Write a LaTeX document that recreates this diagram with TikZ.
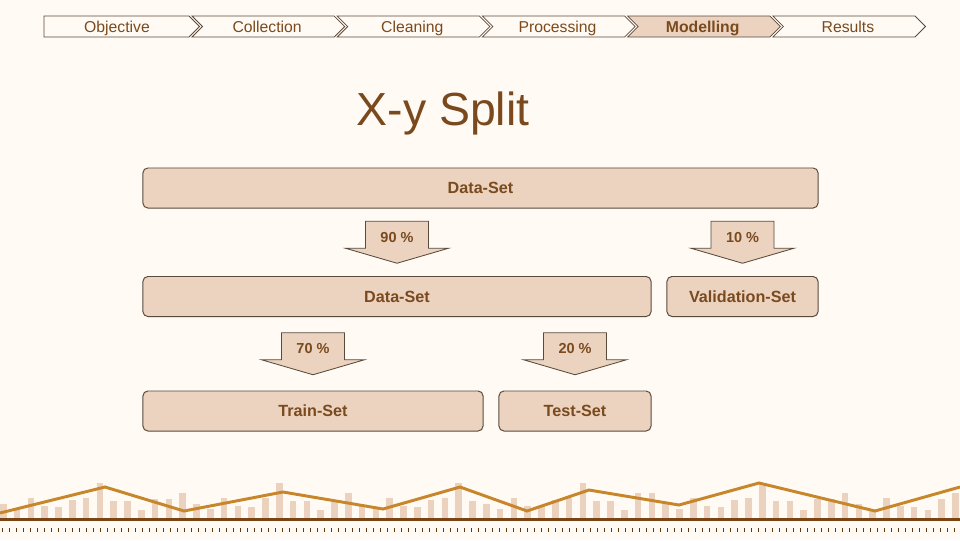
\documentclass[tikz,border=0pt]{standalone}
\usepackage{fontspec}
\setmainfont{Liberation Sans}
\usetikzlibrary{calc}
\definecolor{bgc}{HTML}{FFFAF4}
\definecolor{boxfill}{HTML}{EBD3C0}
\definecolor{boxline}{HTML}{5A4A3C}
\definecolor{txtc}{HTML}{7A4A1E}
\definecolor{barc}{HTML}{EAD2BE}
\definecolor{orangec}{HTML}{C8862A}
\definecolor{basec}{HTML}{7A4514}
\tikzset{
  chevbox/.style={draw=boxline, line width=0.55pt, fill=bgc},
  chevact/.style={draw=boxline, line width=0.55pt, fill=boxfill},
  chevtext/.style={text=txtc, font=\fontsize{11.2}{13}\selectfont, inner sep=0pt, anchor=base},
  box/.style={draw=boxline, line width=0.7pt, fill=boxfill, rounded corners=3.5pt,
    minimum height=1cm, inner sep=0pt, text=txtc, font=\fontsize{11.5}{13}\selectfont\bfseries},
  arrowbox/.style={draw=boxline, line width=0.6pt, fill=boxfill},
  arrowlabel/.style={text=txtc, font=\fontsize{10.3}{12}\selectfont\bfseries, inner sep=0pt},
  titletext/.style={text=txtc, font=\fontsize{33}{38}\selectfont, inner sep=0pt},
}
\newcommand\blockarr[4]{%
  \coordinate (#1m) at ($(#2.south)!0.5!(#3.north)$);
  \coordinate (#1) at (#3.north |- #1m);
  \draw[arrowbox] ($(#1)+(-31.5,-21)$) -- ++(0,27) -- ++(-20,0) -- ++(51.5,15)
     -- ++(51.5,-15) -- ++(-20,0) -- ++(0,-27) -- cycle;
  \node[arrowlabel] (#1l) at ($(#1)+(0,-5)$) {#4};
}
\begin{document}
\begin{tikzpicture}[x=0.025cm,y=-0.025cm]
\fill[bgc] (0,0) rectangle (960,540);
\useasboundingbox (0,0) rectangle (960,540);

% chevron bar
\draw[chevbox] (44,16) -- (189,16) -- (199.5,26.5) -- (189,37) -- (44,37) -- cycle;
\node[chevtext] (c0) at (117,32) {Objective};
\foreach \i/\lab in {1/Collection,2/Cleaning,3/Processing,5/Results}{
  \pgfmathsetmacro\L{192+145.2*(\i-1)}
  \pgfmathsetmacro\R{189+145.2*\i}
  \draw[chevbox] (\L,16) -- (\R,16) -- (\R+10.5,26.5) -- (\R,37) -- (\L,37) -- (\L+10.5,26.5) -- cycle;
  \node[chevtext] (c\i) at ({(\L+\R)/2+4},32) {\lab};
}
\draw[chevact] (627.6,16) -- (769.8,16) -- (780.3,26.5) -- (769.8,37) -- (627.6,37) -- (638.1,26.5) -- cycle;
\node[chevtext, font=\fontsize{11.2}{13}\selectfont\bfseries] (c4) at (702.7,32) {Modelling};

% title
\node[titletext] (title) at (443,113) {X-y Split};

% boxes
\node[box, minimum width=16.875cm] (ds) at (480.5,188) {Data-Set};
\node[box, minimum width=12.7cm] (ds2) at (397,296.5) {Data-Set};
\node[box, minimum width=3.775cm] (val) at (742.5,296.5) {Validation-Set};
\node[box, minimum width=8.5cm] (train) at (313,411) {Train-Set};
\node[box, minimum width=3.8cm] (test) at (575,411) {Test-Set};

% block arrows
\blockarr{a90}{ds}{ds2}{90 \%}
\blockarr{a10}{ds}{val}{10 \%}
\blockarr{a70}{ds2}{train}{70 \%}
\blockarr{a20}{ds2}{test}{20 \%}

% bottom decoration
\foreach \k/\t in {0/504,1/510,2/498,3/506,4/507,5/500,6/498,7/483,8/501,9/501,
  10/510,11/499,12/499,13/493,14/504,15/509,16/498,17/506,18/507,19/498,
  20/483,21/501,22/501,23/510,24/502,25/493,26/506,27/509,28/498,29/506,
  30/507,31/500,32/498,33/483,34/501,35/504,36/509,37/498,38/506,39/506,
  40/500,41/498,42/483,43/501,44/501,45/510,46/493,47/493,48/504,49/509,
  50/498,51/506,52/507,53/500,54/498,55/483,56/501,57/501,58/510,59/499,
  60/499,61/493,62/504,63/509,64/498,65/506,66/507,67/510,68/499,69/493}{
  \fill[barc] (13.8*\k,\t) rectangle (13.8*\k+6.5,518.5);
}
\draw[orangec, line width=2.1pt, line join=miter] (0,513) -- (105,487) -- (184,511) -- (283,492) -- (383,509)
  -- (460,487) -- (527,511) -- (589,490) -- (679,505) -- (759,483) -- (875,511) -- (960,487);
\draw[basec, line width=1.6pt] (0,519.5) -- (960,519.5);
\foreach \x in {2,9,...,958}{
  \draw[basec!80!black, line width=0.7pt] (\x,528.3) -- (\x,532.3);
}
\end{tikzpicture}
\end{document}
